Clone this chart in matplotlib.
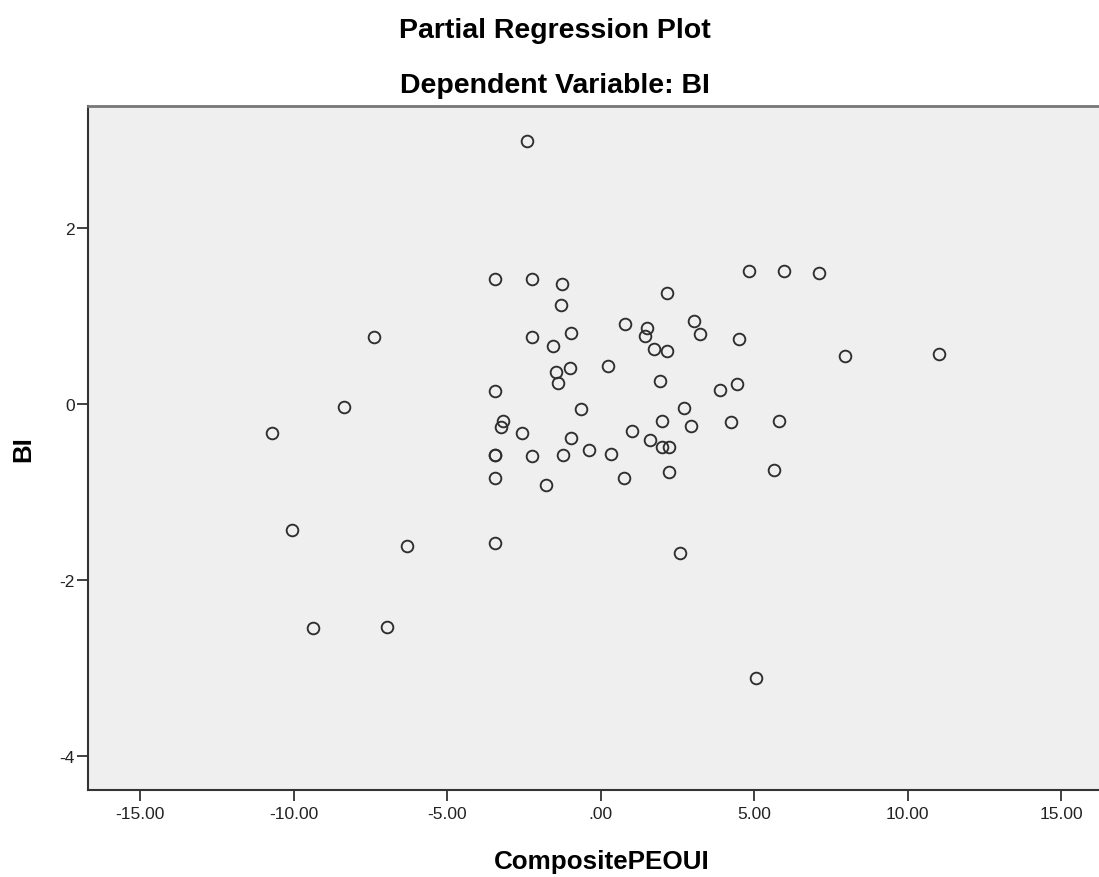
#!/usr/bin/env python3
"""
Partial regression plot (SPSS style) of BI against CompositePEOUI
"""

import matplotlib
matplotlib.use("Agg")
import matplotlib.pyplot as plt

plt.rcParams['font.family'] = ['Liberation Sans', 'DejaVu Sans']
plt.rcParams['axes.unicode_minus'] = False

# Data
composite_peoui = [
    -2.39, -3.44, -2.22, -7.38, -2.22, -3.44, -8.35, -10.69, -3.17, -3.25,
    -2.55, -3.44, -3.44, -2.22, -3.44, -1.78, -10.06, -6.31, -3.44, -9.37,
    -6.97, 4.84, 5.96, 7.11, -1.26, 2.16, -1.28, 0.78, 1.51, 1.45,
    3.03, 3.23, -0.95, -1.56, 4.50, 1.74, 2.16, 7.95, 11.02, 0.24,
    -1.00, -1.44, -1.40, 1.93, 4.43, 3.90, -0.63, 2.73, 1.99, 2.95,
    4.24, 5.80, 1.01, -0.96, 1.61, 2.00, 2.23, -1.22, -0.38, 0.35,
    0.77, 2.22, 5.66, 2.60, 5.06,
]
bi = [
    2.99, 1.42, 1.42, 0.76, 0.76, 0.14, -0.04, -0.33, -0.20, -0.26,
    -0.33, -0.58, -0.58, -0.59, -0.84, -0.92, -1.44, -1.62, -1.58, -2.55,
    -2.54, 1.51, 1.51, 1.48, 1.36, 1.26, 1.12, 0.91, 0.86, 0.77,
    0.94, 0.79, 0.80, 0.65, 0.74, 0.62, 0.60, 0.54, 0.56, 0.43,
    0.41, 0.36, 0.24, 0.26, 0.22, 0.16, -0.06, -0.05, -0.20, -0.25,
    -0.21, -0.20, -0.31, -0.39, -0.41, -0.49, -0.49, -0.58, -0.53, -0.57,
    -0.84, -0.78, -0.75, -1.70, -3.12,
]
x_ticks = [-15, -10, -5, 0, 5, 10, 15]
x_tick_labels = ['-15.00', '-10.00', '-5.00', '.00', '5.00', '10.00', '15.00']
y_ticks = [-4, -2, 0, 2]


def plot_partial_regression(x, y):
    fig = plt.figure(figsize=(10.99, 8.78), dpi=100)
    ax = fig.add_axes([0.0805, 0.0987, 0.9195, 0.7798])
    ax.set_facecolor('#efefef')

    ax.plot(x, y, linestyle='none', marker='o', markersize=8.4,
            markerfacecolor='none', markeredgecolor='#2e2e2e',
            markeredgewidth=1.35)

    ax.set_xlim(-16.68, 16.23)
    ax.set_ylim(-4.393, 3.386)
    ax.set_xticks(x_ticks)
    ax.set_xticklabels(x_tick_labels)
    ax.set_yticks(y_ticks)

    # Spines like SPSS: dark left/bottom, grey top, none at right
    for side in ('left', 'bottom'):
        ax.spines[side].set_color('#333333')
        ax.spines[side].set_linewidth(1.5)
    ax.spines['top'].set_color('#777777')
    ax.spines['top'].set_linewidth(2)
    ax.spines['right'].set_visible(False)

    ax.tick_params(axis='both', direction='out', length=8, width=1.3,
                   color='#333333', labelsize=12.5, labelcolor='#222222')
    ax.tick_params(axis='y', pad=2)
    ax.tick_params(axis='x', pad=3)

    ax.set_xlabel('CompositePEOUI', fontsize=18.7, fontweight='bold')
    ax.xaxis.set_label_coords(0.508, -0.0857)
    ax.xaxis.label.set_va('top')
    ax.set_ylabel('BI', fontsize=18.5, fontweight='bold')
    ax.yaxis.set_label_coords(-0.053, 0.5)

    fig.text(0.505, 0.957, 'Partial Regression Plot', ha='center',
             va='baseline', fontsize=20.5, fontweight='bold')
    fig.text(0.505, 0.8945, 'Dependent Variable: BI', ha='center',
             va='baseline', fontsize=20.5, fontweight='bold')

    fig.savefig('out.png', dpi=100)


if __name__ == '__main__':
    plot_partial_regression(composite_peoui, bi)
